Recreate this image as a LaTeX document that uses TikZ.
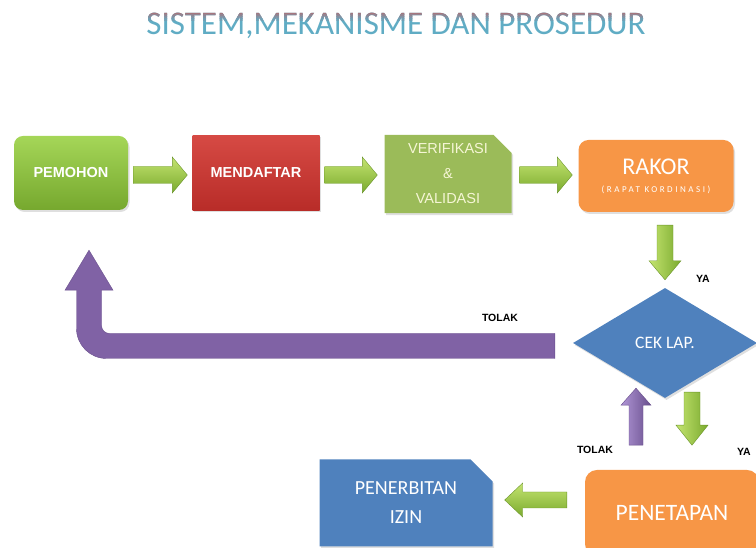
\documentclass[tikz,border=0pt]{standalone}
\usepackage{fontspec}
\setmainfont{Carlito}
\newfontfamily\labelfont{Liberation Sans}
\usetikzlibrary{calc,shapes.geometric,shapes.misc,shadows}

\definecolor{grnA}{RGB}{165,214,88}
\definecolor{grnB}{RGB}{118,168,46}
\definecolor{redA}{RGB}{214,74,68}
\definecolor{redB}{RGB}{184,44,40}
\definecolor{verif}{RGB}{155,187,89}
\definecolor{verifText}{RGB}{246,246,214}
\definecolor{orng}{RGB}{247,150,70}
\definecolor{blu}{RGB}{79,129,189}
\definecolor{purA}{RGB}{176,150,214}
\definecolor{purM}{RGB}{128,98,165}
\definecolor{purB}{RGB}{104,78,140}
\definecolor{arrA}{RGB}{196,228,112}
\definecolor{arrB}{RGB}{122,170,46}
\definecolor{arrEdge}{RGB}{108,150,44}
\definecolor{titleteal}{RGB}{96,172,196}
\definecolor{titlered}{RGB}{178,108,114}

% block arrow: [style]{tail}{tip}{shaft half width}{head half width}{head length}
\newcommand\blockarrow[6][]{%
  \coordinate (ba-h) at ($(#3)!#6!(#2)$);
  \path[#1] ($(#2)!#4!90:(#3)$) -- ($(ba-h)!#4!90:(#3)$) -- ($(ba-h)!#5!90:(#3)$) -- (#3)
    -- ($(ba-h)!#5!-90:(#3)$) -- ($(ba-h)!#4!-90:(#3)$) -- ($(#2)!#4!-90:(#3)$) -- cycle;}

\tikzset{
  x=1pt, y=1pt,
  card/.style={inner sep=0pt, text=white, align=center,
    drop shadow={opacity=0.25, shadow xshift=1.5pt, shadow yshift=-2pt}},
  harrow/.style={top color=arrA, bottom color=arrB, draw=arrEdge, line width=0.4pt},
  varrow/.style={left color=arrA, right color=arrB, draw=arrEdge, line width=0.4pt},
  uparrow/.style={left color=purA, right color=purB, draw=purB, line width=0.4pt},
  tag/.style={inner sep=0pt, font=\labelfont\bfseries\fontsize{10.5}{11}\selectfont, text=black},
  titlestyle/.style={inner sep=0pt, font=\fontsize{33}{33}\selectfont},
}

\begin{document}
\begin{tikzpicture}
\useasboundingbox (0,0) rectangle (756,548);

% title with a warm-to-teal vertical blend
\node[titlestyle, text=titleteal] (title) at (396,522) {SISTEM,MEKANISME DAN PROSEDUR};
\foreach \k/\mixval in {0/85,1/62,2/40,3/20} {
  \begin{scope}
    \ifnum\k=0
      \clip (100,560) rectangle (700,{535-2});
    \else
      \clip (100,{535-2*\k}) rectangle (700,{535-2*(\k+1)});
    \fi
    \node[titlestyle, text=titlered!\mixval!titleteal] (title-\k) at (396,522) {SISTEM,MEKANISME DAN PROSEDUR};
  \end{scope}
}

% top row of steps
\node[card, rounded corners=9pt, top color=grnA, bottom color=grnB,
      minimum width=114pt, minimum height=74pt,
      font=\labelfont\bfseries\fontsize{14.5}{15}\selectfont] (pemohon) at (71,375) {PEMOHON};
\node[card, top color=redA, bottom color=redB,
      minimum width=127pt, minimum height=75pt,
      font=\labelfont\bfseries\fontsize{14.5}{15}\selectfont] (mendaftar) at (256,375) {MENDAFTAR};
\node[card, chamfered rectangle, chamfered rectangle corners=north east,
      chamfered rectangle xsep=9pt, chamfered rectangle ysep=9pt,
      fill=verif, text=verifText,
      minimum width=127pt, minimum height=72pt,
      font=\labelfont\fontsize{14.5}{25}\selectfont] (verif) at (448,374) {VERIFIKASI\\\&\\VALIDASI};
\node[card, rounded corners=10pt, fill=orng,
      minimum width=155pt, minimum height=72pt] (rakor) at (656,372)
      {\fontsize{24}{24}\selectfont RAKOR\\[6pt]
       {\fontsize{9}{9}\selectfont\addfontfeature{LetterSpace=28}(RAPAT KORDINASI)}};

% decision
\node[card, diamond, fill=blu, minimum width=184pt, minimum height=110pt,
      font=\fontsize{17.5}{18}\selectfont] (cek) at (665,205) {CEK LAP.};

% bottom row
\node[card, rounded corners=12pt, fill=orng, minimum width=174pt, minimum height=86pt,
      font=\fontsize{23.5}{24}\selectfont] (penetapan) at (672,35) {PENETAPAN};
\node[card, chamfered rectangle, chamfered rectangle corners=north east,
      chamfered rectangle xsep=11pt, chamfered rectangle ysep=11pt,
      fill=blu, minimum width=173pt, minimum height=87pt,
      font=\fontsize{20}{29}\selectfont] (izin) at (406,45) {PENERBITAN\\IZIN};

% flow arrows along the top row
\coordinate (a1t) at ($(pemohon.east)+(5pt,-2pt)$);
\coordinate (a1h) at ($(mendaftar.west)+(-5pt,-2pt)$);
\blockarrow[harrow]{a1t}{a1h}{8.5pt}{18pt}{15pt}
\coordinate (a2t) at ($(mendaftar.east)+(5pt,-2pt)$);
\coordinate (a2h) at ($(verif.west)+(-7pt,-1pt)$);
\blockarrow[harrow]{a2t}{a2h}{8.5pt}{18pt}{15pt}
\coordinate (a3t) at ($(verif.east)+(8pt,-1pt)$);
\coordinate (a3h) at ($(rakor.west)+(-6pt,1pt)$);
\blockarrow[harrow]{a3t}{a3h}{8.5pt}{18pt}{15pt}

% rakor down to the check
\coordinate (d1t) at ($(cek.north |- rakor.south)+(0pt,-13pt)$);
\coordinate (d1h) at ($(cek.north)+(0pt,8pt)$);
\blockarrow[varrow]{d1t}{d1h}{8pt}{16pt}{19pt}

% check down to penetapan, and back up when rejected
\coordinate (d2t) at ($(cek.south)+(27pt,6pt)$);
\coordinate (d2h) at ($(cek.south)+(27pt,-47pt)$);
\blockarrow[varrow]{d2t}{d2h}{8pt}{16pt}{20pt}
\coordinate (u1t) at ($(cek.south)+(-29pt,-47pt)$);
\coordinate (u1h) at ($(cek.south)+(-29pt,10pt)$);
\blockarrow[uparrow]{u1t}{u1h}{7pt}{15pt}{17pt}

% penetapan to penerbitan izin
\coordinate (l1t) at ($(penetapan.west)+(-18pt,13pt)$);
\coordinate (l1h) at ($(izin.east)+(12pt,3pt)$);
\blockarrow[harrow]{l1t}{l1h}{8pt}{17pt}{18pt}

% rejection path back to pemohon
\path[fill=purM, draw=purB, line width=0.4pt]
  let \p1=($(cek.west)+(-18pt,-3pt)$), \p2=($(pemohon.south)+(18pt,-40pt)$) in
  (\x1,\y1+12.5pt) -- (\x2+20.5pt,\y1+12.5pt)
  arc[start angle=270, end angle=180, radius=8pt]
  -- (\x2+12.5pt,\y2-40pt) -- (\x2+24pt,\y2-40pt) -- (\x2,\y2)
  -- (\x2-24pt,\y2-40pt) -- (\x2-12.5pt,\y2-40pt)
  -- (\x2-12.5pt,\y1+17.5pt)
  arc[start angle=180, end angle=270, radius=30pt]
  -- (\x1,\y1-12.5pt) -- cycle;

% answer tags
\node[tag] (ya1) at (703,269) {YA};
\node[tag] (tolak1) at (500,230) {TOLAK};
\node[tag] (tolak2) at (595,98) {TOLAK};
\node[tag] (ya2) at (744,96) {YA};
\end{tikzpicture}
\end{document}
